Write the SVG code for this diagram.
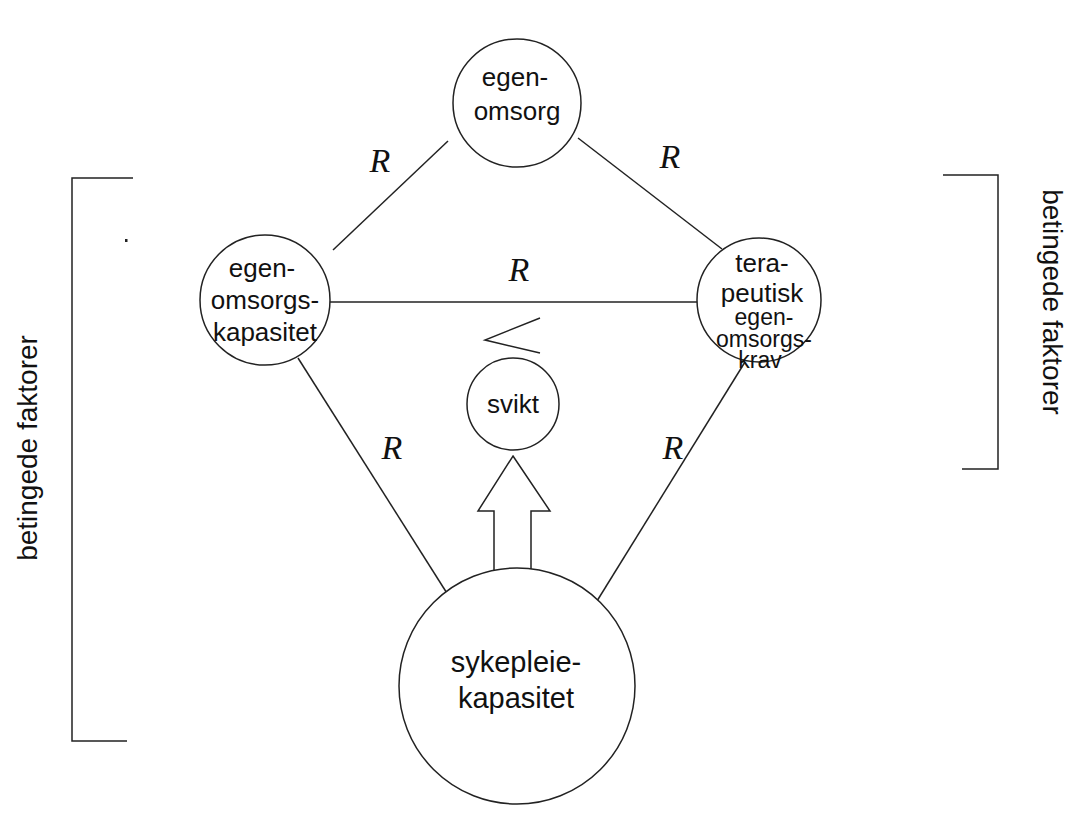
<svg xmlns="http://www.w3.org/2000/svg" width="1079" height="827" viewBox="0 0 1079 827">
<style>
.node{fill:#fff;stroke:#222;stroke-width:1.5}
.edge{stroke:#222;stroke-width:1.5;fill:none}
.t{font-family:"Liberation Sans",Arial,sans-serif;font-size:26px;fill:#111;text-anchor:middle}
.s{font-size:23px}
.r{font-family:"Liberation Serif","Times New Roman",serif;font-style:italic;font-size:34px;fill:#111;text-anchor:middle}
.side{font-family:"Liberation Sans",Arial,sans-serif;font-size:28px;fill:#111;text-anchor:middle}
</style>
<rect width="1079" height="827" fill="#fff"/>
<g id="connectors">
<line class="edge" x1="448" y1="141" x2="333" y2="250"/>
<line class="edge" x1="578" y1="138" x2="722" y2="249"/>
<line class="edge" x1="330" y1="302" x2="697" y2="302"/>
<line class="edge" x1="298" y1="358" x2="450" y2="598"/>
<line class="edge" x1="745" y1="362" x2="597" y2="601"/>
<polyline class="edge" points="540,318 485,340 540,353"/>
<path class="edge" d="M513,456 L550,511 L531,511 L531,571 L494,571 L494,511 L478,511 Z"/>
</g>
<g id="labels">
<text class="r" x="380" y="172">R</text>
<text class="r" x="670" y="168">R</text>
<text class="r" x="519" y="281">R</text>
<text class="r" x="392" y="459">R</text>
<text class="r" x="673" y="459">R</text>
</g>
<g id="node-egenomsorg">
<circle class="node" cx="517" cy="103" r="64"/>
<text class="t" x="515" y="86">egen-</text>
<text class="t" x="517" y="120">omsorg</text>
</g>
<g id="node-kapasitet">
<circle class="node" cx="265" cy="300" r="65"/>
<text class="t" x="262" y="277">egen-</text>
<text class="t" x="265" y="309">omsorgs-</text>
<text class="t" x="265" y="341">kapasitet</text>
</g>
<g id="node-krav">
<circle class="node" cx="759" cy="300" r="62"/>
<text class="t" x="762" y="272">tera-</text>
<text class="t" x="762" y="302">peutisk</text>
<text class="t s" x="764" y="325">egen-</text>
<text class="t s" x="764" y="347">omsorgs-</text>
<text class="t s" x="760" y="368">krav</text>
</g>
<g id="node-svikt">
<circle class="node" cx="513" cy="404" r="46"/>
<text class="t" x="513" y="413">svikt</text>
</g>
<g id="node-sykepleie">
<circle class="node" cx="517" cy="686" r="118"/>
<text class="t" x="516" y="672" style="font-size:29px">sykepleie-</text>
<text class="t" x="516" y="708" style="font-size:29px">kapasitet</text>
</g>
<g id="bracket-left">
<polyline class="edge" points="133,178 72,178 72,741 127,741"/>
<rect x="125" y="239" width="2.5" height="3" fill="#222"/>
<text class="side" transform="translate(37,448) rotate(-90)">betingede faktorer</text>
</g>
<g id="bracket-right">
<polyline class="edge" points="943,175 998,175 998,469 962,469"/>
<text class="side" transform="translate(1043,302) rotate(90)">betingede faktorer</text>
</g>
</svg>
